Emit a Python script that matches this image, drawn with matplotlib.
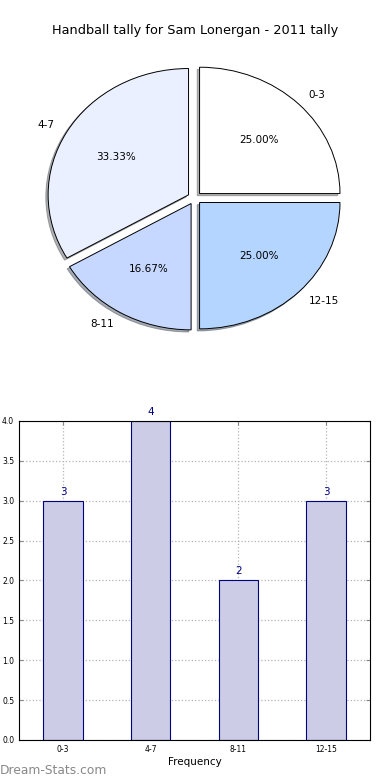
import matplotlib
matplotlib.use("Agg")
import matplotlib.pyplot as plt

# --- data ---
categories = ["0-3", "4-7", "8-11", "12-15"]
counts = [3, 4, 2, 3]
pie_colors = ["#ffffff", "#eaf0ff", "#c6d8ff", "#b3d5ff"]
title = "Handball tally for Sam Lonergan - 2011 tally"

fig = plt.figure(figsize=(3.9, 7.8), dpi=100)

# --- pie (old style: not forced circular) ---
ax1 = fig.add_axes([0.049, 0.5436, 0.9, 0.405])
wedges, texts, autotexts = ax1.pie(
    counts, labels=categories, colors=pie_colors, explode=[0.05] * 4,
    autopct="%1.2f%%", shadow={"ox": -0.012, "oy": -0.012, "shade": 0.6},
    startangle=0,
    wedgeprops={"edgecolor": "black", "linewidth": 0.7},
    textprops={"fontsize": 7.5},
)
ax1.set_aspect("auto")
ax1.set_xlim(-1.25, 1.25)
ax1.set_ylim(-1.25, 1.25)
fig.text(0.5, 0.961, title, ha="center", va="center", fontsize=9.3)

# --- bar chart ---
ax2 = fig.add_axes([0.049, 0.0513, 0.9, 0.409])
x = range(len(categories))
ax2.bar(x, counts, width=0.45, color="#ccccE6", edgecolor="#000080", linewidth=0.8, zorder=2)
for xi, c in zip(x, counts):
    ax2.text(xi, c + 0.05, str(c), ha="center", va="bottom", color="#000080", fontsize=7.5)
ax2.set_xlim(-0.5, 3.5)
ax2.set_ylim(0, 4)
ax2.set_xticks(list(x))
ax2.set_xticklabels(categories)
ax2.set_yticks([i * 0.5 for i in range(9)])
ax2.tick_params(labelsize=5.5, direction="in", top=True, right=True, length=3, color="#888888")
ax2.grid(True, linestyle=":", color="#b4b4b4", linewidth=0.9, zorder=0)
ax2.set_axisbelow(True)
ax2.set_xlabel("Frequency", fontsize=7.5, labelpad=2)

fig.text(0.0, 0.004, "Dream-Stats.com", color="#888888", fontsize=8.8, ha="left", va="bottom")

fig.savefig("out.png", dpi=100)
